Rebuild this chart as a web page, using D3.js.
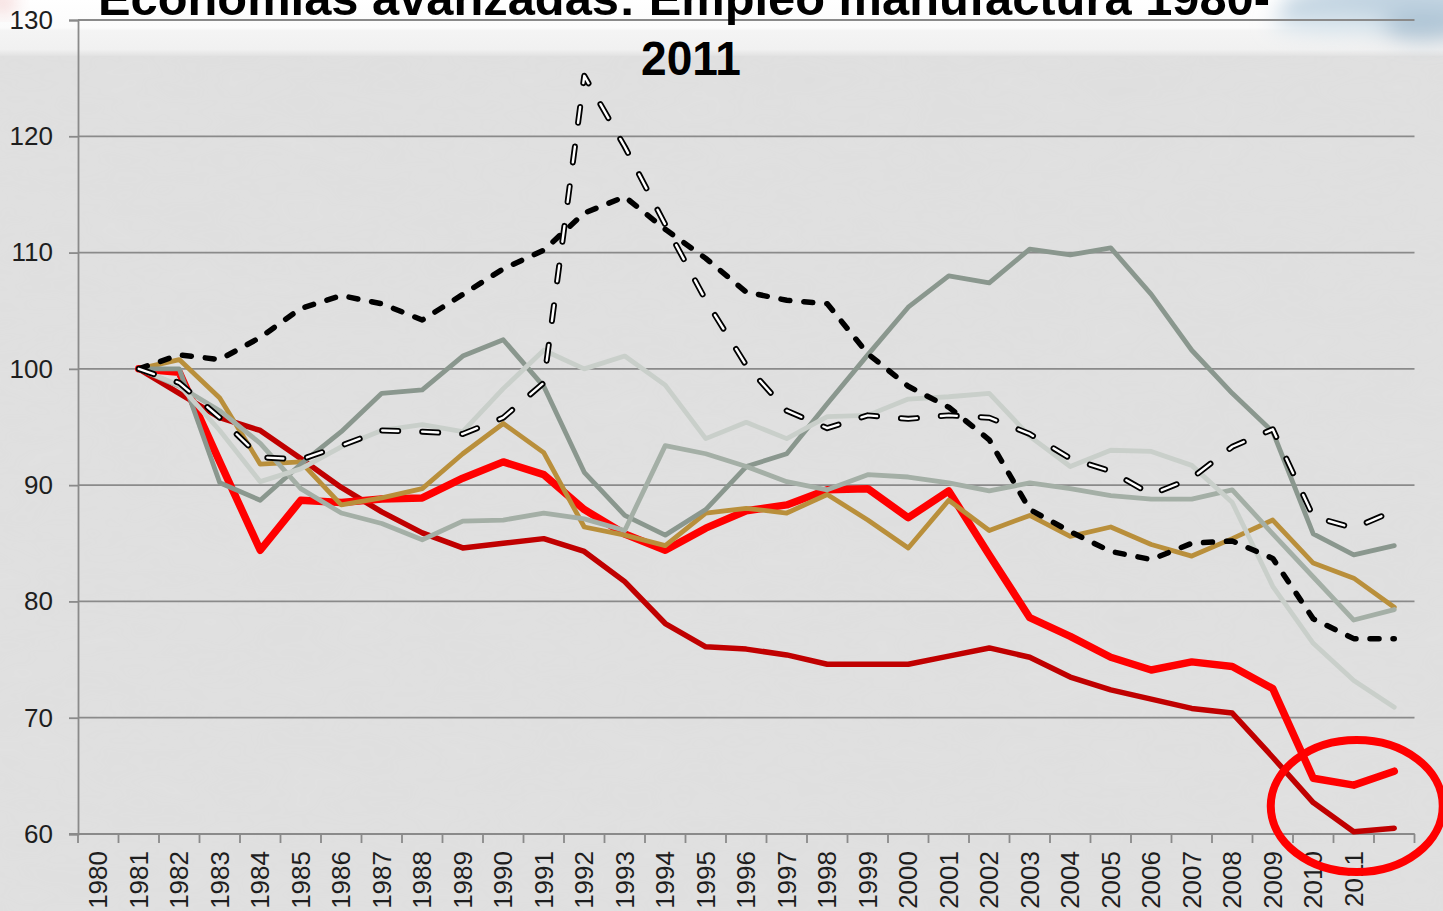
<!DOCTYPE html>
<html>
<head>
<meta charset="utf-8">
<script src="https://cdn.jsdelivr.net/npm/d3@7"></script>
<style>
html,body{margin:0;padding:0;background:#e1e1e1;overflow:hidden;}
svg{display:block;}
</style>
</head>
<body>
<svg id="chart" width="1443" height="911"></svg>
<script>
// ---- data ----
const titleLines = ["Economías avanzadas:  Empleo manufactura 1980-", "2011"];
const yearLabels = ["1980","1981","1982","1983","1984","1985","1986","1987","1988","1989",
  "1990","1991","1992","1993","1994","1995","1996","1997","1998","1999",
  "2000","2001","2002","2003","2004","2005","2006","2007","2008","2009","2010","2011"];
const yTicks = [60,70,80,90,100,110,120,130];

const seriesA = [100,101.2,100.8,102.7,105.2,106.3,105.6,104.2,106.4,108.6,110.2,113.4,114.8,112.0,109.5,106.6,105.9,105.6,101.3,98.5,96.7,93.9,87.9,86.0,84.3,83.6,85.0,85.2,83.7,78.5,76.8,76.8];
const seriesB = [100,98.8,95.8,92.4,92.2,93.4,94.7,94.6,94.4,95.8,98.8,125.2,119.1,112.4,105.9,100.3,96.4,94.9,96.0,95.7,96.0,95.8,94.4,92.3,91.2,89.2,90.6,93.3,94.8,87.3,86.3,87.8];
const seriesC = [100,100,90.2,88.7,91.8,94.6,97.9,98.2,101.1,102.5,98.5,91.1,87.4,85.7,87.9,91.6,92.7,97.0,101.2,105.3,108.0,107.4,110.3,109.8,110.4,106.4,101.6,97.9,94.6,85.8,84.0,84.8];
const seriesD = [100,98.6,94.7,90.3,91.4,93.3,94.7,95.2,94.6,98.3,101.6,100.0,101.1,98.6,94.0,95.4,94.0,95.9,96.0,97.4,97.6,97.9,94.2,91.6,93.0,92.9,91.7,88.5,81.3,76.4,73.2,70.9];
const seriesE = [100,98.5,96.4,93.6,89.7,87.6,86.7,85.3,86.9,87.0,87.6,87.1,86.1,93.4,92.7,91.6,90.3,89.6,90.9,90.7,90.2,89.5,90.2,89.7,89.1,88.8,88.8,89.6,85.8,82.1,78.4,79.3];
const seriesF = [100,100.8,97.5,91.8,92.0,88.3,88.9,89.7,92.7,95.3,92.8,86.4,85.7,84.8,87.6,88.0,87.6,89.2,87.0,84.6,88.7,86.1,87.4,85.6,86.4,84.9,83.9,85.4,87.0,83.3,82.0,79.5];
const seriesG = [100,99.7,92.0,84.4,88.7,88.5,88.8,88.9,90.6,92.0,90.9,87.9,85.8,84.4,86.3,87.8,88.3,89.6,89.7,87.2,89.5,84.0,78.6,77.0,75.2,74.1,74.8,74.4,72.5,64.8,64.2,65.4];
const seriesH = [100,97.9,95.8,94.7,92.3,89.8,87.7,85.9,84.6,85.0,85.4,84.3,81.7,78.1,76.1,75.9,75.4,74.6,74.6,74.6,75.3,76.0,75.2,73.5,72.4,71.6,70.8,70.4,66.6,62.7,60.2,60.5];

// ---- layout ----
const svg = d3.select("#chart");
const W = 1443, H = 911;
const plotL = 78, plotR = 1414.5, plotT = 20, plotB = 834;
const nSlots = yearLabels.length + 1;   // one extra empty slot at the end
const x = d3.scaleBand().domain(d3.range(nSlots)).range([plotL, plotR]).padding(0);
const y = d3.scaleLinear().domain([60,130]).range([plotB, plotT]);
const cx = i => x(i) + x.bandwidth()/2;

const defs = svg.append("defs");
const blur = defs.append("filter").attr("id","blur").attr("x","-50%").attr("y","-50%").attr("width","200%").attr("height","200%");
blur.append("feGaussianBlur").attr("stdDeviation", 10);
const tex = defs.append("filter").attr("id","tex");
tex.append("feTurbulence").attr("type","fractalNoise").attr("baseFrequency","0.012 0.03").attr("numOctaves",3).attr("seed",4);
tex.append("feColorMatrix").attr("type","matrix").attr("values","0 0 0 0 0.5  0 0 0 0 0.5  0 0 0 0 0.5  0 0 0 0.09 0");
const topGrad = defs.append("linearGradient").attr("id","topg").attr("x1",0).attr("y1",0).attr("x2",0).attr("y2",1);
topGrad.append("stop").attr("offset","0%").attr("stop-color","#ffffff");
topGrad.append("stop").attr("offset","50%").attr("stop-color","#fbfbfb");
topGrad.append("stop").attr("offset","55%").attr("stop-color","#f4f4f4");
topGrad.append("stop").attr("offset","88%").attr("stop-color","#f1f1f1");
topGrad.append("stop").attr("offset","100%").attr("stop-color","#e2e2e2");

// background
svg.append("rect").attr("width",W).attr("height",H).attr("fill","#e1e1e1");
svg.append("rect").attr("width",W).attr("height",H).attr("filter","url(#tex)").attr("opacity",0.8);
svg.append("rect").attr("width",W).attr("height",56).attr("fill","url(#topg)");
// top-right decoration & top-left smudge
const deco = svg.append("g").attr("filter","url(#blur)");
deco.append("ellipse").attr("cx",1400).attr("cy",8).attr("rx",120).attr("ry",26).attr("fill","#b4cadb").attr("opacity",0.85);
deco.append("ellipse").attr("cx",1330).attr("cy",22).attr("rx",60).attr("ry",12).attr("fill","#d6e3ec").attr("opacity",0.9);
deco.append("ellipse").attr("cx",1425).attr("cy",28).attr("rx",40).attr("ry",14).attr("fill","#9fb8cc").attr("opacity",0.6);
svg.append("ellipse").attr("cx",2).attr("cy",2).attr("rx",14).attr("ry",10).attr("fill","#e8a0a0").attr("opacity",0.5).attr("filter","url(#blur)");

// gridlines
svg.append("g").selectAll("line").data(yTicks).join("line")
  .attr("x1", plotL).attr("x2", plotR)
  .attr("y1", d => y(d)).attr("y2", d => y(d))
  .attr("stroke", "#8a8a8a").attr("stroke-width", 1.8);

// y axis
const yAxis = svg.append("g").attr("transform", `translate(${plotL},0)`)
  .call(d3.axisLeft(y).tickValues(yTicks).tickSize(9).tickPadding(16).tickFormat(d3.format("d")));
yAxis.select(".domain").attr("stroke","#8a8a8a").attr("stroke-width",1.8);
yAxis.selectAll(".tick line").attr("stroke","#8a8a8a").attr("stroke-width",1.8);
yAxis.selectAll(".tick text").attr("font-family","'Liberation Sans', Arial, sans-serif").attr("font-size",26).attr("fill","#1e1e1e");

// x axis (line + ticks at slot boundaries + rotated labels)
const xg = svg.append("g");
xg.append("line").attr("x1", plotL-9).attr("x2", plotR).attr("y1", plotB).attr("y2", plotB)
  .attr("stroke","#8a8a8a").attr("stroke-width",1.8);
xg.selectAll("line.tk").data(d3.range(nSlots+1)).join("line").attr("class","tk")
  .attr("x1", k => plotL + k*x.step()).attr("x2", k => plotL + k*x.step())
  .attr("y1", plotB).attr("y2", plotB+9)
  .attr("stroke","#8a8a8a").attr("stroke-width",1.8);
xg.selectAll("text").data(yearLabels).join("text")
  .attr("transform", (d,i) => `translate(${cx(i)},${plotB+17}) rotate(-90)`)
  .attr("text-anchor","end").attr("dy","0.35em")
  .attr("font-family","'Liberation Sans', Arial, sans-serif").attr("font-size",26).attr("fill","#1e1e1e")
  .text(d => d);

// lines
const line = d3.line().x((d,i) => cx(i+1)).y(d => y(d));
const g = svg.append("g").attr("fill","none").attr("stroke-linejoin","round");
function draw(data, color, width, dash, cap) {
  g.append("path").datum(data).attr("d", line).attr("stroke", color).attr("stroke-width", width)
    .attr("stroke-dasharray", dash || null).attr("stroke-linecap", cap || "round");
}
draw(seriesH, "#c00000", 5.5);
draw(seriesG, "#ff0000", 7.5);
draw(seriesF, "#b98f3b", 4.8);
draw(seriesC, "#8a978e", 4.8);
draw(seriesE, "#a4afa6", 4.8);
draw(seriesD, "#c9cfca", 4.8);
draw(seriesA, "#000000", 5.5, "9,14");
draw(seriesB, "#000000", 6, "16,24");
draw(seriesB, "#ffffff", 2.4, "16,24");

// annotation ellipse around the last two points
svg.append("ellipse").attr("cx", cx(31) + 3).attr("cy", y(62.4)).attr("rx", 86).attr("ry", 66)
  .attr("fill","none").attr("stroke","#ff0000").attr("stroke-width",8);

// title
const tf = "'Liberation Sans', Arial, sans-serif";
svg.append("text").attr("x", 684).attr("y", 15).attr("text-anchor","middle")
  .attr("font-family", tf).attr("font-weight","bold").attr("font-size",48).attr("fill","#000")
  .attr("textLength", 1172).attr("lengthAdjust","spacingAndGlyphs").text(titleLines[0]);
svg.append("text").attr("x", 691).attr("y", 75).attr("text-anchor","middle")
  .attr("font-family", tf).attr("font-weight","bold").attr("font-size",48).attr("fill","#000")
  .attr("textLength", 100).attr("lengthAdjust","spacingAndGlyphs").text(titleLines[1]);
</script>
</body>
</html>
